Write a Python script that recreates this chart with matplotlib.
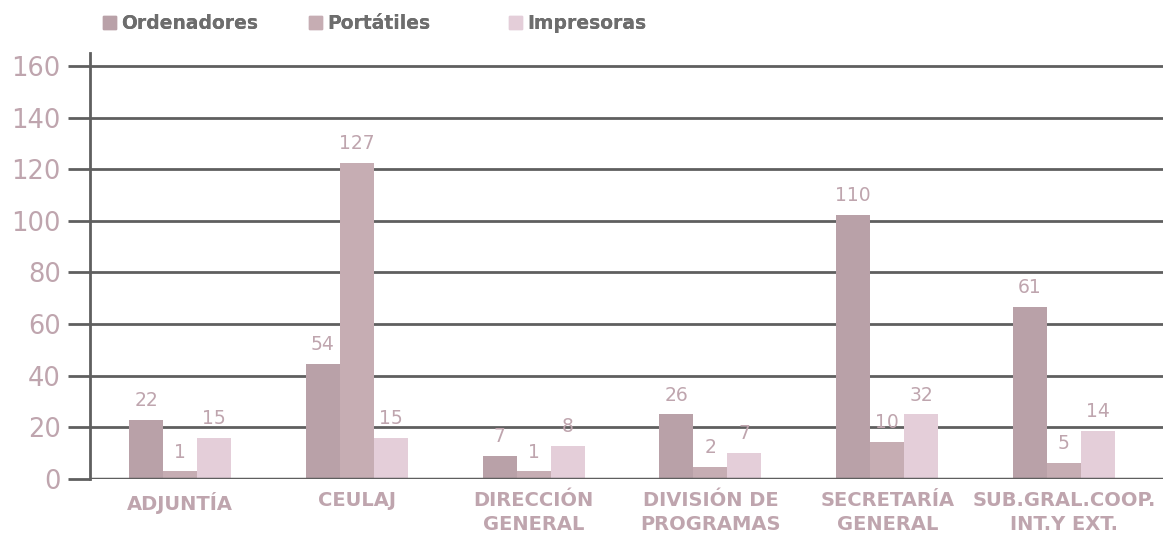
import numpy as np
import matplotlib
matplotlib.use("Agg")
import matplotlib.pyplot as plt
from matplotlib.patches import Patch

# categories and series (bar heights as drawn, labels as printed)
categories = ["ADJUNTÍA", "CEULAJ", "DIRECCIÓN\nGENERAL", "DIVISIÓN DE\nPROGRAMAS",
              "SECRETARÍA\nGENERAL", "SUB.GRAL.COOP.\nINT.Y EXT."]
series_names = ["Ordenadores", "Portátiles", "Impresoras"]
ordenadores = [23, 44.5, 9, 25, 102.3, 66.7]
portatiles = [3, 122.5, 3, 4.6, 14.3, 6.2]
impresoras = [16, 16, 12.8, 10, 25, 18.6]
ordenadores_lbl = [22, 54, 7, 26, 110, 61]
portatiles_lbl = [1, 127, 1, 2, 10, 5]
impresoras_lbl = [15, 15, 8, 7, 32, 14]
yticks = [0, 20, 40, 60, 80, 100, 120, 140, 160]

colors = ["#b9a1a8", "#c6adb3", "#e4ced9"]
txt_color = "#bfa5ae"
grid_color = "#5f5f5f"

plt.rcParams['font.family'] = ['DejaVu Sans']

fig = plt.figure(figsize=(11.63, 5.40), dpi=100)
ax = fig.add_axes([90 / 1163, 61 / 540, 1 - 90 / 1163, (479 - 53) / 540])

x = np.arange(len(categories))
w = 0.192
data = [ordenadores, portatiles, impresoras]
labels = [ordenadores_lbl, portatiles_lbl, impresoras_lbl]
for i, (vals, lbls) in enumerate(zip(data, labels)):
    pos = x + (i - 1) * w
    ax.bar(pos, vals, width=w, color=colors[i], label=series_names[i], zorder=3)
    for px, v, l in zip(pos, vals, lbls):
        ax.annotate(str(l), (px, v), xytext=(0, 7), textcoords="offset points",
                    ha="center", va="bottom", fontsize=13.5, color=txt_color, zorder=4)

ax.axhline(0, color=grid_color, linewidth=2.5, zorder=5)

ax.set_xlim(-0.509, 5.56)
ax.set_ylim(0, 165)
ax.set_yticks(yticks)
ax.set_yticklabels([str(t) for t in yticks], fontsize=18.5, color=txt_color)
ax.yaxis.grid(True, color=grid_color, linewidth=2, zorder=0)
ax.tick_params(axis="y", length=16, width=2, color=grid_color, pad=5)
ax.set_xticks(x)
ax.set_xticklabels(categories, fontsize=14, fontweight="bold", color=txt_color,
                   linespacing=1.3)
ax.tick_params(axis="x", length=0, pad=9)

for s in ["top", "right", "bottom"]:
    ax.spines[s].set_visible(False)
ax.spines["left"].set_color(grid_color)
ax.spines["left"].set_linewidth(2)

# legend entries placed one by one (uneven gaps in the original)
legend_x = [86, 292, 492]
for name, col, lx in zip(series_names, colors, legend_x):
    leg = fig.legend(handles=[Patch(color=col, label=name)], loc="upper left",
                     bbox_to_anchor=(lx / 1163, 1.005), frameon=False,
                     handlelength=0.7, handleheight=0.7, handletextpad=0.3,
                     prop={"weight": "bold", "size": 13.5})
    for t in leg.get_texts():
        t.set_color("#6d6d6d")
    fig.add_artist(leg)

fig.savefig("out.png", dpi=100)
